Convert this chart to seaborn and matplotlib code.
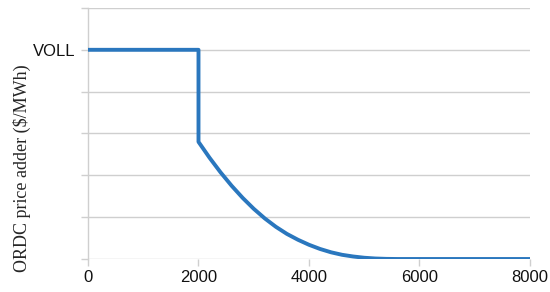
import matplotlib
matplotlib.use("Agg")
import matplotlib.pyplot as plt
import seaborn as sns

# reserve (MW) vs ORDC price adder, in gridline units (VOLL = 5)
reserve = [0, 2000, 2000, 2200, 2400, 2600, 2800, 3000, 3200, 3400, 3600, 3800,
           4000, 4200, 4400, 4600, 4800, 5000, 5200, 5400, 5600, 8000]
adder = [5, 5, 2.80, 2.42, 2.07, 1.75, 1.46, 1.20, 0.97, 0.77, 0.60, 0.46,
         0.34, 0.24, 0.16, 0.10, 0.06, 0.03, 0.012, 0.003, 0.0, 0.0]
x_ticks = [0, 2000, 4000, 6000, 8000]
y_grid = [0, 1, 2, 3, 4, 5, 6]
y_labels = ["", "", "", "", "", "VOLL", ""]

sns.set_theme(style="white")
plt.rcParams['font.family'] = ['Liberation Sans', 'DejaVu Sans']

fig = plt.figure(figsize=(5.5, 2.92), dpi=100)
ax = fig.add_axes([0.16, 0.113, 0.8036, 0.8597])

sns.lineplot(x=reserve, y=adder, estimator=None, sort=False,
             color="#2a77be", linewidth=2.8, ax=ax, zorder=3)
ax.lines[0].set_solid_joinstyle("round")

ax.set_xlim(0, 8000)
ax.set_ylim(0, 6)
ax.set_xticks(x_ticks)
ax.set_xticklabels([str(t) for t in x_ticks], fontsize=12, color="#111111")
ax.set_yticks(y_grid)
ax.set_yticklabels(y_labels, fontsize=12, color="#111111")
ax.grid(axis="y", color="#cfcfcf", linewidth=1)
ax.grid(axis="x", visible=False)
ax.tick_params(axis="y", length=5, color="#cfcfcf", width=1, pad=4, left=True)
ax.tick_params(axis="x", length=5, color="#cfcfcf", width=1, pad=3, bottom=True, direction="out")

for s in ["top", "right", "bottom"]:
    ax.spines[s].set_visible(False)
ax.spines["left"].set_color("#cfcfcf")
ax.spines["left"].set_linewidth(1)

ax.set_ylabel("ORDC price adder ($/MWh)", fontsize=13,
              family=["Liberation Serif", "DejaVu Serif"])
ax.yaxis.set_label_coords(-0.128, 0.36)

fig.savefig("out.png", dpi=100)
